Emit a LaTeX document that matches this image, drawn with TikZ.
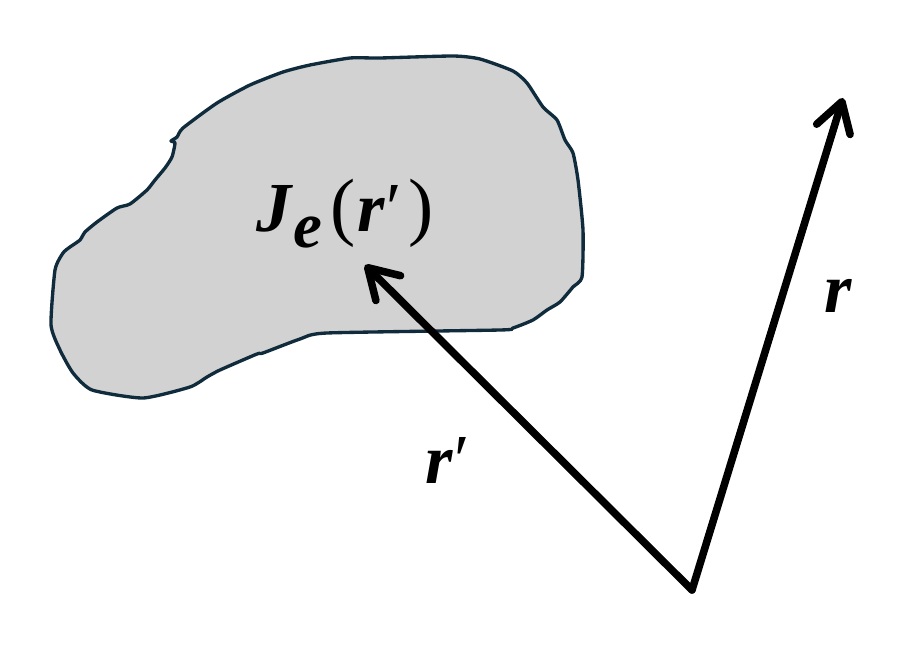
\documentclass[tikz,border=0pt]{standalone}
\usepackage{fontspec}
\setmainfont{Liberation Serif}
\usetikzlibrary{arrows.meta}
\definecolor{blobfill}{HTML}{D2D2D2}
\definecolor{blobline}{HTML}{0F2B3C}
\begin{document}
\begin{tikzpicture}[x=0.02cm,y=-0.02cm,
  vec/.style={line width=4.3pt,line cap=round,
    -{Straight Barb[length=0.58cm,width=0.7cm,round]}},
  lbl/.style={inner sep=0pt,font=\fontsize{40}{48}\selectfont}]
\useasboundingbox (0,0) rectangle (913,645);
\draw[blobline,fill=blobfill,line width=1.9pt,line join=round]
  plot[smooth cycle,tension=0.35] coordinates {
  (175,143) (172,157) (165,168) (155,180) (147,190) (130,204) (117,208)
  (97,222) (85,232) (80,240) (70,247) (63,253) (55,270) (51,325) (60,350)
  (73,373) (92,390) (143,398) (190,387) (207,377) (220,370) (257,354)
  (263,353) (300,339) (327,333) (500,330) (513,328) (533,320) (547,310)
  (560,302) (573,287) (582,277) (583,230) (578,180) (573,153) (565,140)
  (557,120) (543,107) (527,83) (513,71) (480,59) (453,56) (380,58)
  (350,58) (310,65) (283,72) (250,85) (217,103) (183,128) (177,137)
  (171,141)};
\node[lbl,anchor=base west] (J) at (256,232)
  {{\bfseries\itshape J}\kern1pt\raisebox{-0.32cm}{\fontsize{37}{40}\selectfont\bfseries\itshape e}\kern5pt{\fontsize{43}{48}\selectfont(}\kern1pt\textbf{\textit{r}}\kern0.5pt′\kern4pt{\fontsize{43}{48}\selectfont)}};
\coordinate (O) at (692,590);
\coordinate (A) at (365,265);
\coordinate (B) at (843,98);
\draw[vec] (O) -- (A);
\draw[vec] (O) -- (B);
\node[lbl,anchor=base] (r) at (838,313) {\textbf{\textit{r}}};
\node[lbl,anchor=base west] (rp) at (425,483) {\textbf{\textit{r}}\kern1pt′};
\end{tikzpicture}
\end{document}
